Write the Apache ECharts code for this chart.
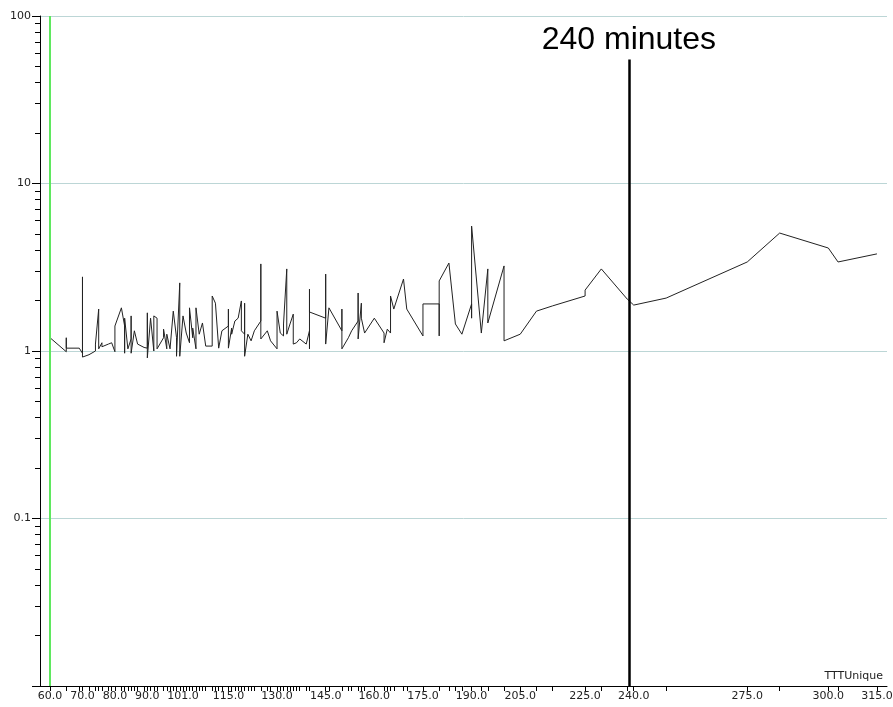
<!DOCTYPE html>
<html>
<head>
<meta charset="utf-8">
<script src="https://cdn.jsdelivr.net/npm/echarts@6/dist/echarts.min.js"></script>
<style>
html,body{margin:0;padding:0;background:#fff;}
#chart{width:893px;height:707px;}
</style>
</head>
<body>
<div id="chart"></div>
<script>
// x values (minutes) of the trace, in drawing order
const xValues = [60,65,65,65,69,70,70,70,72,74,74,75,75,76,76,78,79,80,80,82,83,83,83,84,85,85,85,86,87,89,90,90,90,91,92,92,93,93,95,95,96,96,97,98,99,99,99,100,100,101,102,103,103,104,104,105,105,106,107,108,110,110,111,112,113,115,115,115,116,116,117,118,119,119,120,120,120,121,122,122,123,125,125,125,127,128,130,130,131,132,132,133,133,134,135,135,136,137,139,140,140,140,140,145,145,145,146,150,150,150,152,153,155,155,155,156,156,157,160,163,163,164,165,165,166,169,170,175,175,180,180,180,183,185,187,190,190,190,193,195,195,200,200,205,210,215,225,225,230,238,240,250,275,285,300,303,315];
// y values (log scale) of the trace
const yValues = [1.20,0.99,1.20,1.04,1.04,0.97,2.77,0.92,0.95,1.00,1.10,1.78,1.03,1.12,1.06,1.10,1.12,0.99,1.41,1.81,1.41,0.97,1.57,1.03,1.18,1.62,0.97,1.32,1.10,1.05,1.04,1.69,0.91,1.57,1.00,1.62,1.57,1.03,1.20,1.35,1.03,1.26,1.03,1.73,1.20,1.23,0.93,2.55,0.93,1.62,1.28,1.12,1.81,1.20,1.37,1.03,1.81,1.26,1.47,1.07,1.07,2.13,1.93,1.04,1.32,1.41,1.78,1.04,1.37,1.26,1.51,1.57,1.99,1.32,1.26,1.93,0.93,1.26,1.15,1.12,1.32,1.51,3.31,1.18,1.32,1.15,1.03,1.73,1.28,1.23,1.45,3.09,1.26,1.45,1.66,1.10,1.12,1.18,1.10,1.32,1.03,2.34,1.71,1.57,2.88,1.10,1.81,1.32,1.78,1.03,1.20,1.32,1.51,2.22,1.18,1.93,1.57,1.28,1.57,1.28,1.12,1.35,1.28,2.13,1.78,2.69,1.78,1.23,1.91,1.91,1.23,2.62,3.35,1.45,1.26,1.91,1.57,5.57,1.28,3.09,1.47,3.22,1.15,1.26,1.73,1.86,2.13,2.31,3.09,2.04,1.88,2.07,3.40,5.06,4.12,3.40,3.80];
// labelled x ticks
const xTickLabels = [60,70,80,90,101,115,130,145,160,175,190,205,225,240,275,300,315];
// y axis labels / major ticks
const yMajor = [0.01,0.1,1,10,100];
const yLabels = [0.1,1,10,100];
const yMinor = [0.02,0.03,0.04,0.05,0.06,0.07,0.08,0.09,0.2,0.3,0.4,0.5,0.6,0.7,0.8,0.9,2,3,4,5,6,7,8,9,20,30,40,50,60,70,80,90];
// annotations
const markerX = 238.5;
const markerTop = 55;
const markerText = '240 minutes';
const startX = 60;
const axisName = 'TTTUnique';

const xTicks = Array.from(new Set(xValues)).sort((a,b)=>a-b);
const seriesData = xValues.map((x,i)=>[x,yValues[i]]);

const chart = echarts.init(document.getElementById('chart'), null, {renderer:'canvas'});
const gridPos = {left:40, right:6, top:16, bottom:21, containLabel:false, outerBoundsMode:'none'};
const fontFam = '"DejaVu Sans", sans-serif';
chart.setOption({
  animation:false,
  backgroundColor:'#ffffff',
  grid:[Object.assign({},gridPos), Object.assign({},gridPos)],
  xAxis:[{
    type:'value', gridIndex:0, min:56.9, max:318.1,
    name:axisName, nameLocation:'end', nameGap:-4,
    nameTextStyle:{fontFamily:fontFam, fontSize:11, color:'#222', align:'right', verticalAlign:'bottom', padding:[0,0,4,0]},
    axisLine:{show:true, onZero:false, lineStyle:{color:'#000', width:1}},
    axisTick:{show:true, length:5, customValues:xTicks, lineStyle:{color:'#000', width:1}},
    axisLabel:{show:true, customValues:xTickLabels, margin:5, fontFamily:fontFam, fontSize:11, color:'#222',
      formatter:v=>Number(v).toFixed(1)},
    splitLine:{show:false}
  },{
    type:'value', gridIndex:1, min:56.9, max:318.1, show:false
  }],
  yAxis:[{
    type:'log', logBase:10, gridIndex:0, min:0.01, max:100,
    axisLine:{show:true, onZero:false, lineStyle:{color:'#000', width:1}},
    axisTick:{show:true, length:8, customValues:yMajor, lineStyle:{color:'#000', width:1}},
    axisLabel:{show:true, customValues:yLabels, margin:9, fontFamily:fontFam, fontSize:11, color:'#222',
      formatter:v=>String(Number(Number(v).toPrecision(3)))},
    splitLine:{show:true, lineStyle:{color:'#bcd6d6', width:1}}
  },{
    type:'log', logBase:10, gridIndex:1, min:0.01, max:100,
    axisLine:{show:false},
    axisTick:{show:true, length:5, customValues:yMinor, lineStyle:{color:'#000', width:1}},
    axisLabel:{show:false},
    splitLine:{show:false}
  }],
  series:[{
    type:'line', xAxisIndex:0, yAxisIndex:0,
    data:seriesData, showSymbol:false, symbol:'none',
    lineStyle:{color:'#222', width:1},
    z:3,
    markLine:{
      silent:true, symbol:['none','none'], animation:false,
      data:[
        [{coord:[markerX,0.01], lineStyle:{color:'#000', width:2.5, type:'solid'},
          label:{show:true, position:'end', formatter:markerText, fontFamily:'"Liberation Sans", Arial, sans-serif', fontSize:32, color:'#000', distance:3}},
         {coord:[markerX,markerTop]}],
        {xAxis:startX, lineStyle:{color:'#5fe85f', width:2, type:'solid'}, label:{show:false}}
      ]
    }
  },{
    type:'line', xAxisIndex:1, yAxisIndex:1, data:[]
  }]
});
</script>
</body>
</html>
